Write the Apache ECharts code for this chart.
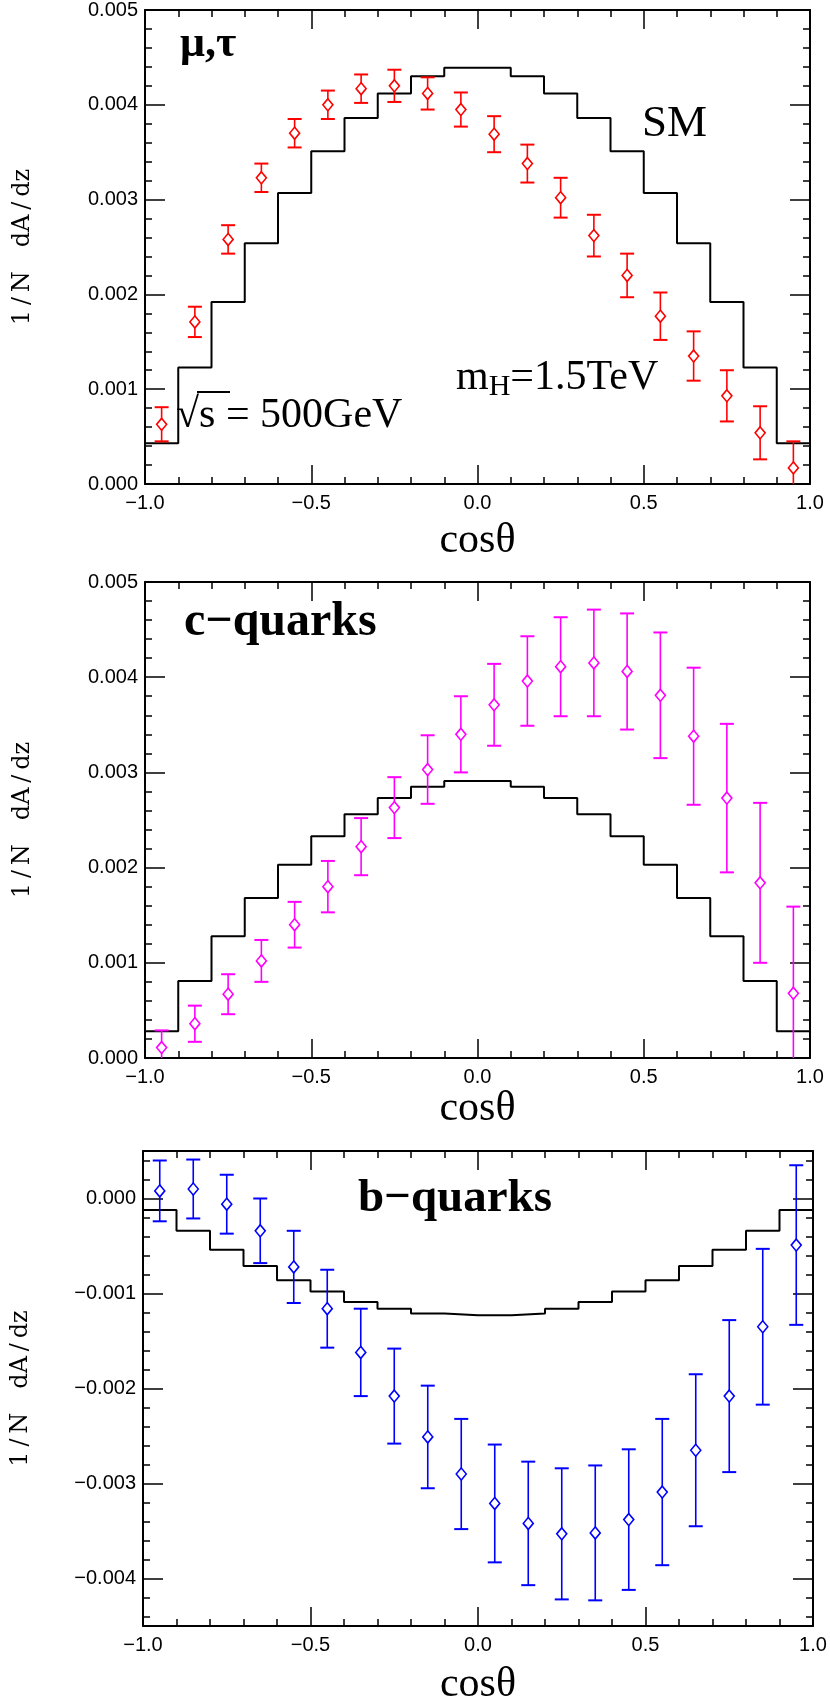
<!DOCTYPE html>
<html><head><meta charset="utf-8">
<script src="https://cdn.jsdelivr.net/npm/echarts@6/dist/echarts.min.js"></script>
<style>html,body{margin:0;padding:0;background:#fff}#c{width:830px;height:1707px}</style>
</head><body><div id="c"></div>
<script>
// ---- data ----
const binCenters = [-0.95,-0.85,-0.75,-0.65,-0.55,-0.45,-0.35,-0.25,-0.15,-0.05,0.05,0.15,0.25,0.35,0.45,0.55,0.65,0.75,0.85,0.95];
const binHalfWidth = 0.05;

const smMuTau = [0.00043,0.00123,0.00192,0.00254,0.00307,0.00351,0.00386,0.00412,0.00430,0.00439,0.00439,0.00430,0.00412,0.00386,0.00351,0.00307,0.00254,0.00192,0.00123,0.00043];
const muTauVal = [0.00063,0.00171,0.00258,0.00323,0.00370,0.00400,0.00417,0.00420,0.00412,0.00395,0.00369,0.00338,0.00302,0.00262,0.00220,0.00177,0.00135,0.00093,0.00054,0.00017];
const muTauErr = [0.00018,0.00016,0.00015,0.00015,0.00015,0.00015,0.00015,0.00017,0.00017,0.00018,0.00019,0.00020,0.00021,0.00022,0.00023,0.00025,0.00026,0.00027,0.00028,0.00028];

const smCharm = [0.00028,0.00081,0.00128,0.00168,0.00203,0.00233,0.00256,0.00273,0.00285,0.00291,0.00291,0.00285,0.00273,0.00256,0.00233,0.00203,0.00168,0.00128,0.00081,0.00028];
const charmVal = [0.00011,0.00036,0.00067,0.00102,0.00140,0.00180,0.00222,0.00263,0.00303,0.00340,0.00371,0.00396,0.00411,0.00415,0.00406,0.00381,0.00338,0.00273,0.00184,0.00068];
const charmErr = [0.00018,0.00019,0.00021,0.00022,0.00024,0.00027,0.00030,0.00032,0.00036,0.00040,0.00043,0.00047,0.00052,0.00056,0.00061,0.00066,0.00072,0.00078,0.00084,0.00091];

const smBottom = [-0.00012,-0.00034,-0.00054,-0.00071,-0.00086,-0.00098,-0.00109,-0.00116,-0.00121,-0.00123,-0.00123,-0.00121,-0.00116,-0.00109,-0.00098,-0.00086,-0.00071,-0.00054,-0.00034,-0.00012];
const bottomVal = [0.00008,0.00010,-0.00006,-0.00034,-0.00072,-0.00116,-0.00162,-0.00208,-0.00251,-0.00290,-0.00321,-0.00342,-0.00353,-0.00352,-0.00338,-0.00309,-0.00265,-0.00208,-0.00135,-0.00049];
const bottomErr = [0.00032,0.00031,0.00031,0.00034,0.00038,0.00041,0.00046,0.00050,0.00054,0.00058,0.00062,0.00065,0.00069,0.00071,0.00074,0.00077,0.00080,0.00080,0.00082,0.00084];

const xRange = [-1, 1];
const yRanges = [[0, 0.005], [0, 0.005], [-0.0045, 0.0005]];
const panelColors = ['#ff0000', '#ff00ff', '#0000ff'];
const yTitle = '1\u2009/\u2009N\u2002\u2002dA\u2009/\u2009dz';
const xTitle = 'cos\u03b8';

// ---- build ----
const panels = [
  {sm: smMuTau, val: muTauVal, err: muTauErr},
  {sm: smCharm, val: charmVal, err: charmErr},
  {sm: smBottom, val: bottomVal, err: bottomErr}
];
const grids = [
  {left:145, top:9, width:665, height:475},
  {left:145, top:582, width:665, height:476},
  {left:143, top:1151, width:670, height:481}
];
const xNameGaps = [36, 28, 38];

function fmtX(v){ return (v < 0 ? '\u2212' : '') + Math.abs(v).toFixed(1); }
function fmtY(v){ return (v < 0 ? '\u2212' : '') + Math.abs(v).toFixed(3); }
function tickVals(min, max, perUnit, skipEvery){
  const out = [];
  const lo = Math.ceil(min * perUnit - 1e-6), hi = Math.floor(max * perUnit + 1e-6);
  for (let k = lo; k <= hi; k++){
    if (skipEvery && k % skipEvery === 0) continue;
    out.push(k / perUnit);
  }
  return out;
}

const labelFont = {color:'#000', fontSize:20, fontFamily:'"Liberation Sans", Arial, sans-serif'};
const black = '#000';
const xAxes = [], yAxes = [], series = [];

grids.forEach((g, gi) => {
  const base = {
    gridIndex: gi, type:'value', min: xRange[0], max: xRange[1], interval: 0.5,
    axisLine:{show:true, onZero:false, lineStyle:{color:black, width:2}},
    axisTick:{show:true, inside:true, length:19, lineStyle:{color:black, width:1.5}},
    minorTick:{show:true, splitNumber:5, length:7, lineStyle:{color:black, width:1.5}},
    splitLine:{show:false}, minorSplitLine:{show:false}
  };
  xAxes.push(Object.assign({}, base, {
    position:'bottom',
    axisLabel:Object.assign({show:true, margin:9, formatter: fmtX}, labelFont),
    name: xTitle, nameLocation:'middle', nameGap: xNameGaps[gi],
    nameTextStyle:{color:black, fontSize:42, fontFamily:'"Liberation Serif", "Times New Roman", serif'}
  }));
  xAxes.push(Object.assign({}, base, {position:'top', axisLabel:{show:false}}));

  const [ymin, ymax] = yRanges[gi];
  const majors = tickVals(ymin, ymax, 1000, 0);
  const minors = tickVals(ymin, ymax, 5000, 5);
  const yb = {gridIndex: gi, type:'value', min: ymin, max: ymax, splitLine:{show:false}};
  ['left', 'right'].forEach(pos => {
    yAxes.push(Object.assign({}, yb, {
      position: pos,
      axisLine:{show:true, onZero:false, lineStyle:{color:black, width:2}},
      axisTick:{show:true, inside:true, length:20, customValues: majors, lineStyle:{color:black, width:1.5}},
      axisLabel: pos === 'left'
        ? Object.assign({show:true, customValues: majors, margin:7, formatter: fmtY}, labelFont)
        : {show:false},
      name: pos === 'left' ? yTitle : '',
      nameLocation:'middle', nameGap: 110,
      nameTextStyle:{color:black, fontSize:24, fontFamily:'"DejaVu Serif", serif'}
    }));
    yAxes.push(Object.assign({}, yb, {
      position: pos,
      axisLine:{show:false, onZero:false},
      axisTick:{show:true, inside:true, length:7, customValues: minors, lineStyle:{color:black, width:1.5}},
      axisLabel:{show:false}
    }));
  });

  const p = panels[gi];
  const col = panelColors[gi];
  const stepData = binCenters.map((c, i) => [c - binHalfWidth, p.sm[i]]);
  stepData.push([xRange[1], p.sm[p.sm.length - 1]]);
  series.push({
    type:'line', step:'end', xAxisIndex: 2*gi, yAxisIndex: 4*gi, data: stepData,
    symbol:'none', lineStyle:{color:black, width:2}, clip:true, z:2, silent:true
  });
  series.push({
    type:'custom', xAxisIndex: 2*gi, yAxisIndex: 4*gi, clip:true, z:3, silent:true,
    data: binCenters.map((c, i) => [c, p.val[i] - p.err[i], p.val[i] + p.err[i]]),
    renderItem: (params, api) => {
      const x = api.value(0);
      const a = api.coord([x, api.value(1)]), b = api.coord([x, api.value(2)]);
      const hw = 7;
      return {type:'group', children:[
        {type:'line', shape:{x1:a[0], y1:a[1], x2:b[0], y2:b[1]}, style:{stroke:col, lineWidth:1.6}},
        {type:'line', shape:{x1:a[0]-hw, y1:a[1], x2:a[0]+hw, y2:a[1]}, style:{stroke:col, lineWidth:2}},
        {type:'line', shape:{x1:b[0]-hw, y1:b[1], x2:b[0]+hw, y2:b[1]}, style:{stroke:col, lineWidth:2}}
      ]};
    }
  });
  series.push({
    type:'scatter', xAxisIndex: 2*gi, yAxisIndex: 4*gi, z:4, silent:true,
    data: binCenters.map((c, i) => [c, p.val[i]]),
    symbol:'diamond', symbolSize:[10, 12],
    itemStyle:{color:'#fff', borderColor: col, borderWidth:1.6, opacity:1}
  });
});

const serif = '"Liberation Serif", "Times New Roman", serif';
const graphics = [
  {type:'text', x:180, y:45, style:{text:'\u03bc,\u03c4', font:'bold 44px ' + serif, fill:black, align:'left', verticalAlign:'middle'}},
  {type:'text', x:642, y:124, style:{text:'SM', font:'45px ' + serif, fill:black, align:'left', verticalAlign:'middle'}},
  {type:'text', x:456, y:378, style:{
    text:'{m|m}{h|H}{m|=1.5TeV}', fill:black, align:'left', verticalAlign:'middle',
    rich:{m:{font:'42px ' + serif, fill:black}, h:{font:'30px ' + serif, fill:black, padding:[18,0,0,0]}}
  }},
  {type:'text', x:176, y:416, style:{text:'\u221as = 500GeV', font:'42px ' + serif, fill:black, align:'left', verticalAlign:'middle'}},
  {type:'line', shape:{x1:197, y1:392, x2:230, y2:392}, style:{stroke:black, lineWidth:2}},
  {type:'text', x:184, y:623, style:{text:'c\u2212quarks', font:'bold 48px ' + serif, fill:black, align:'left', verticalAlign:'middle'}},
  {type:'text', x:358, y:1199, style:{text:'b\u2212quarks', font:'bold 47px ' + serif, fill:black, align:'left', verticalAlign:'middle'}}
];

const chart = echarts.init(document.getElementById('c'), null, {renderer:'canvas'});
chart.setOption({
  animation:false,
  backgroundColor:'#fff',
  grid: grids,
  xAxis: xAxes,
  yAxis: yAxes,
  series: series,
  graphic: graphics
});
</script>
</body></html>
